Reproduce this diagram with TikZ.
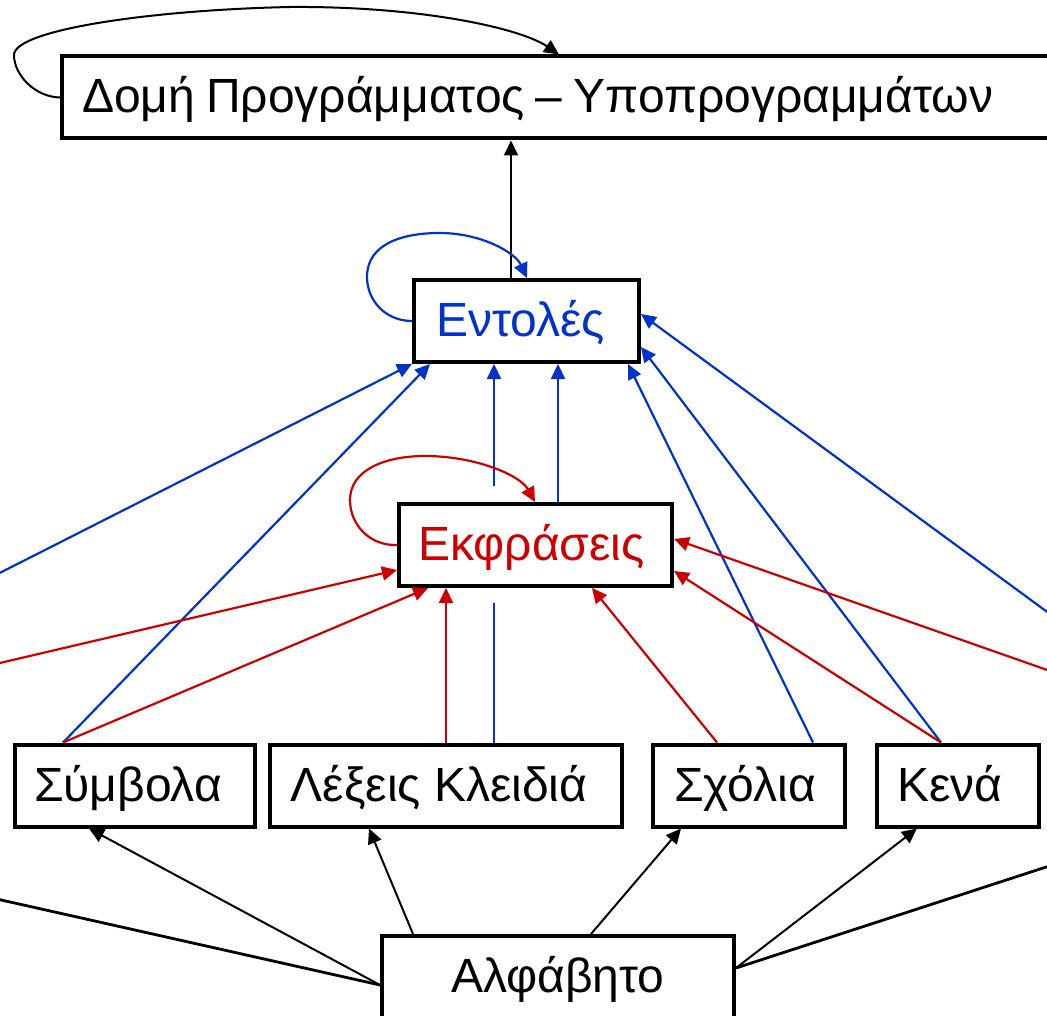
\documentclass[tikz,border=0pt]{standalone}
\usepackage{fontspec}
\setmainfont{Liberation Sans}
\usetikzlibrary{arrows.meta,calc}
\definecolor{cmdblue}{RGB}{0,51,204}
\definecolor{exprred}{RGB}{204,0,0}

\begin{document}
\begin{tikzpicture}[x=1pt,y=-1pt,
  box/.style={draw=black, line width=4pt, fill=white, minimum height=82pt,
    inner sep=0pt, text height=40pt, text depth=9pt,
    font=\fontsize{48}{56}\selectfont},
  arrowhd/.style={-{Triangle[length=15pt,width=14pt]}},
  blk/.style={black, line width=2pt},
  blkthick/.style={black, line width=2.8pt},
  blueln/.style={cmdblue, line width=2.2pt},
  redln/.style={exprred, line width=2.2pt},
]
\useasboundingbox (0,0) rectangle (1047,1016);
\fill[white] (0,0) rectangle (1047,1016);
\clip (0,0) rectangle (1047,1016);

% boxes (a leading kern nudges each label slightly left of centre)
\node[box, anchor=west, text width=968pt, align=left, inner xsep=20pt] (dom) at (60,97.5)
  {\spaceskip=11pt Δομή Προγράμματος – Υποπρογραμμάτων};
\node[box, minimum width=225pt, text=cmdblue] (ent) at (526.5,321) {\kern-12pt Εντολές};
\node[box, minimum width=273pt, text=exprred] (ekf) at (535.5,545) {\kern-8pt Εκφράσεις};
\node[box, minimum width=240pt] (sym) at (135,785.5) {\kern-14pt Σύμβολα};
\node[box, minimum width=352pt] (lex) at (446,785.5) {\kern-14pt Λέξεις Κλειδιά};
\node[box, minimum width=192pt] (sch) at (749,785.5) {\kern-8pt Σχόλια};
\node[box, minimum width=162pt] (ken) at (958,785.5) {\kern-16pt Κενά};
\node[box, minimum width=352pt] (alf) at (558,977) {Αλφάβητο};

% connectors that leave the visible area
\coordinate (offLb) at (-30,588);
\coordinate (offLr) at (-30,670);
\coordinate (offLk) at (-30,893);
\coordinate (offRb) at (1080,636);
\coordinate (offRr) at (1080,681.5);
\coordinate (offRk) at (1080,856);

% statements (blue)
\draw[blueln, arrowhd] (offLb) -- (ent.south west);
\draw[blueln, arrowhd] ($(sym.north west)+(50,0)$) -- ($(ent.south west)+(18,0)$);
\draw[blueln] ($(lex.north west)+(226,0)$) -- ($(ekf.south west)+(97,15)$);
\draw[blueln, arrowhd] ($(ekf.north west)+(97,-16)$) -- ($(ent.south west)+(82,0)$);
\draw[blueln, arrowhd] ($(ekf.north west)+(161,0)$) -- ($(ent.south west)+(146,0)$);
\draw[blueln, arrowhd] ($(sch.north west)+(162,0)$) -- ($(ent.south east)+(-13,0)$);
\draw[blueln, arrowhd] ($(ken.north west)+(66,0)$) -- ($(ent.east)+(0,26)$);
\draw[blueln, arrowhd] (offRb) -- ($(ent.east)+(0,-7)$);

% expressions (red)
\draw[redln, arrowhd] (offLr) -- ($(ekf.west)+(0,25)$);
\draw[redln, arrowhd] ($(sym.north west)+(50,0)$) -- ($(ekf.south west)+(31,0)$);
\draw[redln, arrowhd] ($(lex.north west)+(178,0)$) -- ($(ekf.south west)+(49,0)$);
\draw[redln, arrowhd] ($(sch.north west)+(66,0)$) -- ($(ekf.south west)+(195,0)$);
\draw[redln, arrowhd] ($(ken.north west)+(66,0)$) -- ($(ekf.east)+(0,26)$);
\draw[redln, arrowhd] (offRr) -- ($(ekf.east)+(0,-6)$);

% alphabet and structure (black)
\draw[blk, arrowhd] ($(ent.north west)+(99,0)$) -- ($(dom.south west)+(451,0)$);
\draw[blk, arrowhd] ($(alf.west)+(0,8)$) -- ($(sym.south west)+(76,0)$);
\draw[blkthick] ($(alf.west)+(0,8)$) -- (offLk);
\draw[blk, arrowhd] ($(alf.north west)+(33,0)$) -- ($(lex.south west)+(101,0)$);
\draw[blk, arrowhd] ($(alf.north west)+(211,0)$) -- ($(sch.south west)+(30,0)$);
\draw[blk, arrowhd] ($(alf.east)+(0,-9)$) -- ($(ken.south west)+(42,0)$);
\draw[blkthick] ($(alf.east)+(0,-9)$) -- (offRk);

% self loops
\draw[blk, arrowhd] (dom.west) .. controls (35,97) and (14,75) .. (14,55)
  .. controls (14,30) and (150,10) .. (290,7)
  .. controls (420,6) and (520,28) .. ($(dom.north west)+(499,0)$);
\draw[blueln, arrowhd] (ent.west) .. controls (385,321) and (367,300) .. (367,277)
  .. controls (367,245) and (400,233) .. (440,233)
  .. controls (480,233) and (515,252) .. ($(ent.north west)+(115,0)$);
\draw[redln, arrowhd] (ekf.west) .. controls (370,546) and (350,525) .. (350,500)
  .. controls (350,470) and (385,456) .. (425,456)
  .. controls (475,456) and (520,475) .. ($(ekf.north west)+(138,0)$);
\end{tikzpicture}
\end{document}
